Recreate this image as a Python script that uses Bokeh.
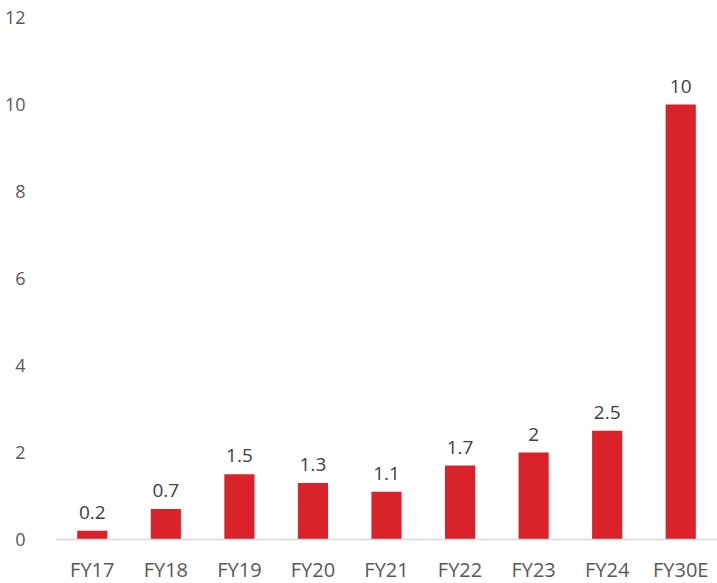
from bokeh.plotting import figure
from bokeh.models import ColumnDataSource, FactorRange, Range1d, FixedTicker
from bokeh.embed import file_html
from bokeh.resources import INLINE
from bokeh.core.properties import value

categories = ["FY17", "FY18", "FY19", "FY20", "FY21", "FY22", "FY23", "FY24", "FY30E"]
values = [0.2, 0.7, 1.5, 1.3, 1.1, 1.7, 2, 2.5, 10]
labels = ["0.2", "0.7", "1.5", "1.3", "1.1", "1.7", "2", "2.5", "10"]
y_ticks = [0, 2, 4, 6, 8, 10, 12]

source = ColumnDataSource(data=dict(cat=categories, val=values, lab=labels))

p = figure(
    frame_width=662, frame_height=522,
    x_range=FactorRange(*categories, range_padding=0),
    y_range=Range1d(0, 12),
    output_backend="svg", toolbar_location=None,
    min_border_left=55, min_border_right=0, min_border_top=17, min_border_bottom=44,
)
p.outline_line_color = None
p.background_fill_color = "white"
p.border_fill_color = "white"
p.grid.visible = False

p.vbar(x="cat", top="val", width=0.41, source=source,
       fill_color="#da222b", line_color=None)

p.text(x="cat", y="val", text="lab", source=source,
       text_align="center", text_baseline="bottom", y_offset=-12,
       text_font=value("Open Sans"), text_font_size="19px", text_color="#404040")

# y axis: labels only
p.yaxis.ticker = FixedTicker(ticks=y_ticks)
p.yaxis.axis_line_color = None
p.yaxis.major_tick_line_color = None
p.yaxis.minor_tick_line_color = None
p.yaxis.major_label_text_font = "Open Sans"
p.yaxis.major_label_text_font_size = "18px"
p.yaxis.major_label_text_color = "#595959"
p.yaxis.major_label_standoff = 24

# x axis: light baseline and category labels
p.xaxis.axis_line_color = "#d9d9d9"
p.xaxis.axis_line_width = 1.5
p.xaxis.major_tick_line_color = None
p.xaxis.minor_tick_line_color = None
p.xaxis.major_label_text_font = "Open Sans"
p.xaxis.major_label_text_font_size = "20px"
p.xaxis.major_label_text_color = "#595959"
p.xaxis.major_label_standoff = 10

open("out.html", "w").write(file_html(p, INLINE))
